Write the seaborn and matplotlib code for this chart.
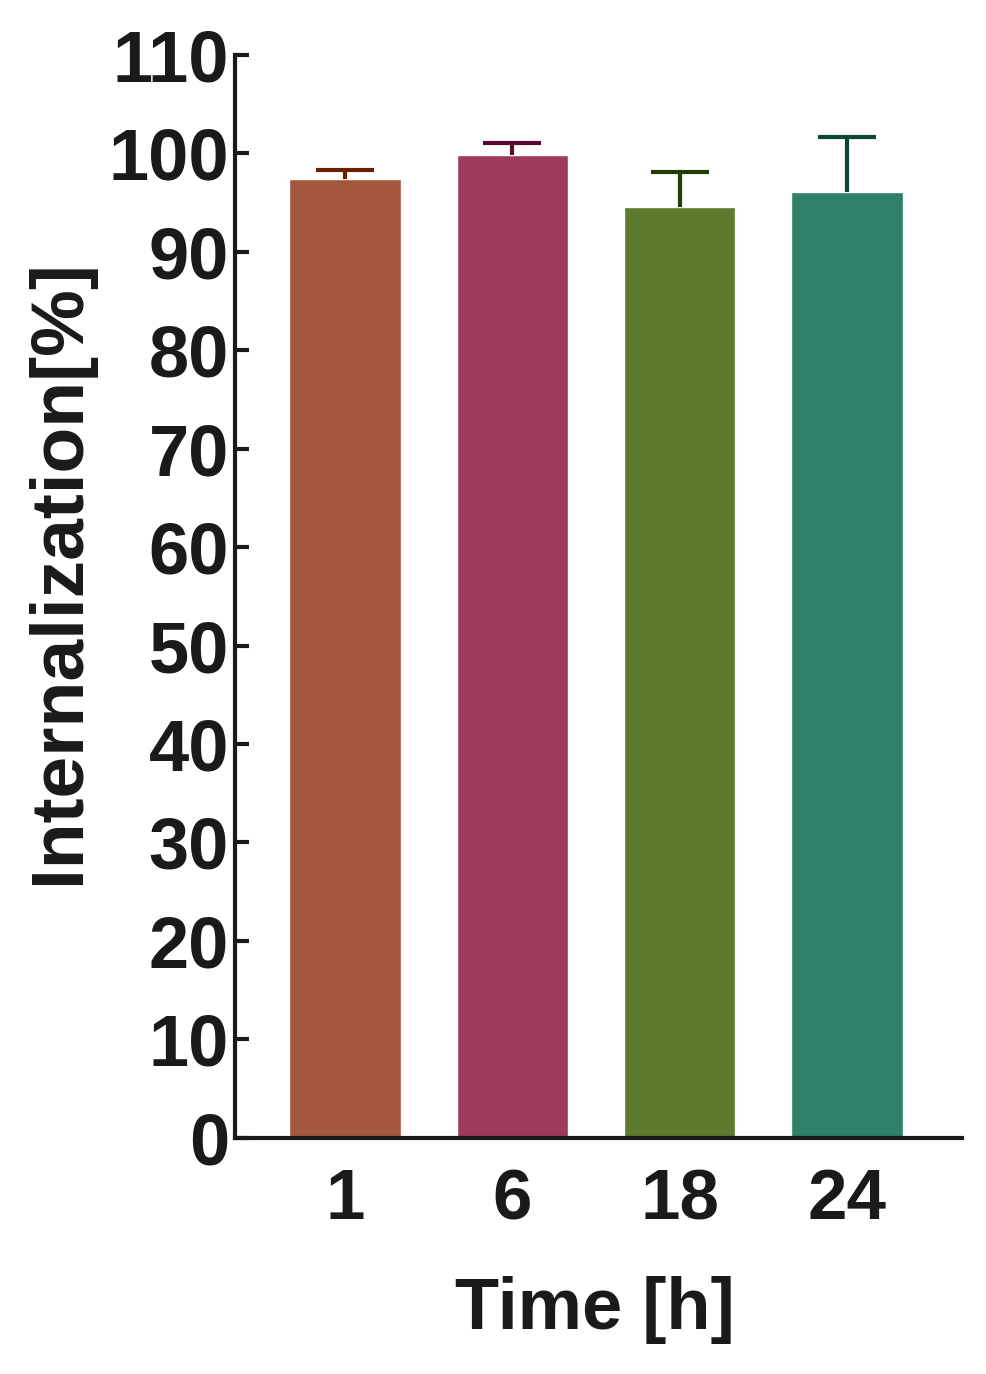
import matplotlib
matplotlib.use("Agg")
import matplotlib.pyplot as plt
import seaborn as sns
import pandas as pd
import numpy as np

## data
times = ["1", "6", "18", "24"]
means = [97.4, 99.8, 94.6, 96.1]
sem = [0.9, 1.3, 3.5, 5.6]

bar_colors = ["#A5573D", "#9E3A5E", "#5E7A2D", "#2E8069"]
err_colors = ["#6B1E00", "#5A0A2E", "#233D00", "#0A4535"]

df = pd.DataFrame({"Time": times, "Internalization": means})

sns.set_style("white")
plt.rcParams["font.family"] = ["Liberation Sans", "DejaVu Sans"]
plt.rcParams["font.weight"] = "bold"
text_col = "#1a1a1a"

fig = plt.figure(figsize=(9.86, 13.74), dpi=100)
ax = fig.add_axes([0.238, 0.172, 0.738, 0.788])

sns.barplot(data=df, x="Time", y="Internalization", hue="Time",
            palette=bar_colors, width=0.665, errorbar=None,
            legend=False, ax=ax, saturation=1)

# upper error bars only, darker shade of each bar
for i in range(len(times)):
    _, caps, _ = ax.errorbar(i, means[i], yerr=[[0], [sem[i]]], color=err_colors[i],
                             elinewidth=3, capsize=21, capthick=3, fmt="none", zorder=3)
    caps[0].set_visible(False)  # hide the cap at the bar top

ax.set_ylim(0, 110)
ax.set_yticks(np.arange(0, 111, 10))
ax.set_xlim(-0.66, 3.69)

sns.despine(ax=ax)
for side in ["left", "bottom"]:
    ax.spines[side].set_linewidth(3)
    ax.spines[side].set_color(text_col)

ax.tick_params(axis="y", direction="in", length=10, width=3, color=text_col,
               labelsize=52, labelcolor=text_col, pad=4, left=True)
ax.tick_params(axis="x", length=0, labelsize=51, labelcolor=text_col, pad=22)
for lab in ax.get_xticklabels() + ax.get_yticklabels():
    lab.set_fontweight("bold")

ax.set_xlabel("Time [h]", fontsize=52, fontweight="bold", color=text_col)
ax.xaxis.set_label_coords(0.495, -0.159)
ax.set_ylabel("Internalization[%]", fontsize=54, fontweight="bold", color=text_col)
ax.yaxis.set_label_coords(-0.241, 0.523)
ax.yaxis.label.set_verticalalignment("center")
ax.xaxis.label.set_verticalalignment("center")

fig.savefig("out.png", dpi=100)
